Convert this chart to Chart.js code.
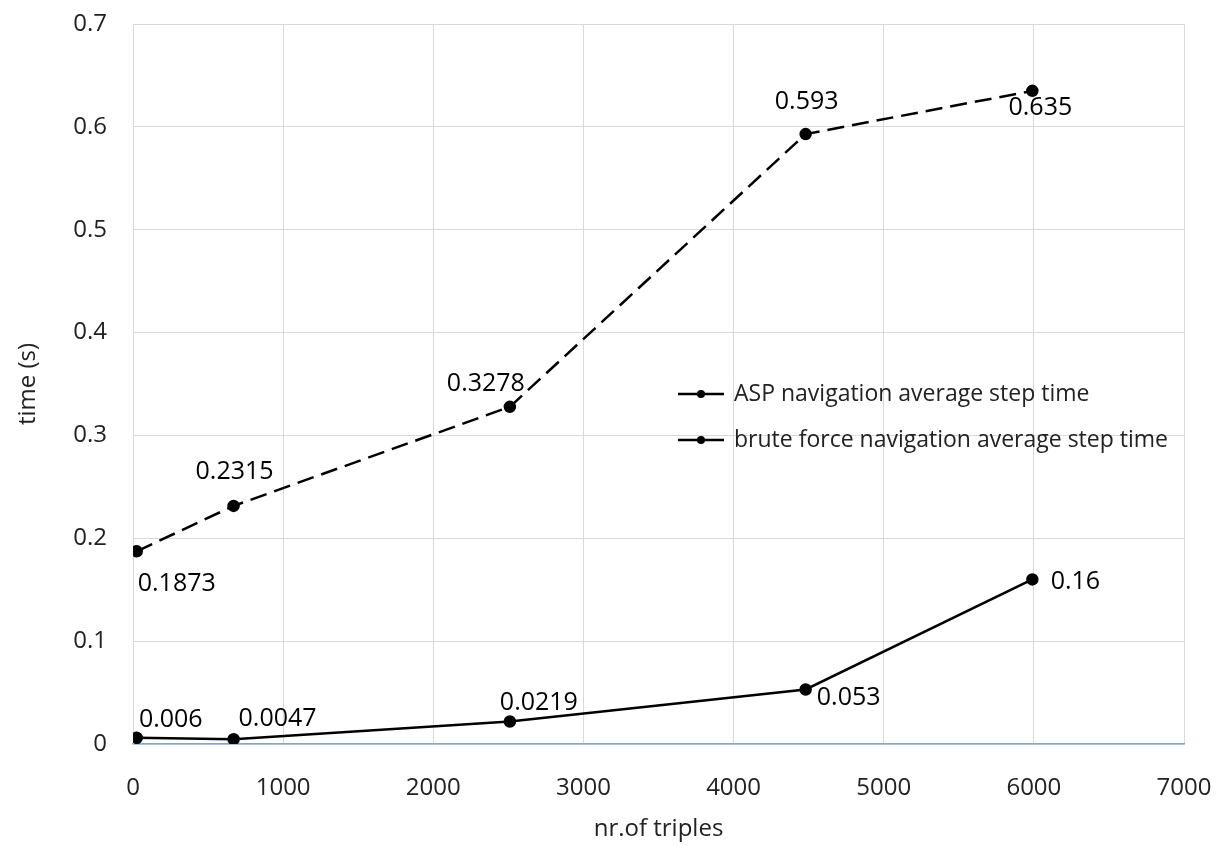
<!DOCTYPE html>
<html>
<head>
<meta charset="utf-8">
<script src="https://cdn.jsdelivr.net/npm/chart.js@4"></script>
<style>
  html, body { margin: 0; padding: 0; background: #fff; }
  #wrap { width: 1223px; height: 846px; }
</style>
</head>
<body>
<div id="wrap"><canvas id="myChart" width="1223" height="846"></canvas></div>
<script>
// data
var triples = [25, 670, 2510, 4480, 5990];
var aspTime = [0.1873, 0.2315, 0.3278, 0.593, 0.635];
var bruteTime = [0.006, 0.0047, 0.0219, 0.053, 0.16];
var aspLabels = ['0.1873', '0.2315', '0.3278', '0.593', '0.635'];
var bruteLabels = ['0.006', '0.0047', '0.0219', '0.053', '0.16'];

// where each value label sits relative to its point (px)
var aspOffsets = [[40, 33], [1, -34], [-24, -23], [1, -32], [8, 17]];
var bruteOffsets = [[34, -18], [44, -20], [29, -19], [43, 8], [43, 2]];

var FONT = '"Open Sans", "Noto Sans", sans-serif';

function toPoints(xs, ys) {
    var pts = [];
    for (var i = 0; i < xs.length; i++) {
        pts.push({ x: xs[i], y: ys[i] });
    }
    return pts;
}

const valueLabels = {
    id: 'valueLabels',
    afterDatasetsDraw(chart) {
        const ctx = chart.ctx;
        ctx.save();
        ctx.font = '25px ' + FONT;
        ctx.fillStyle = '#000';
        ctx.textAlign = 'center';
        ctx.textBaseline = 'middle';
        chart.data.datasets.forEach(function (ds, di) {
            const meta = chart.getDatasetMeta(di);
            meta.data.forEach(function (pt, i) {
                const off = ds.labelOffsets[i];
                ctx.fillText(ds.valueLabels[i], pt.x + off[0], pt.y + off[1]);
            });
        });
        ctx.restore();
    }
};

const innerLegend = {
    id: 'innerLegend',
    afterDraw(chart) {
        const ctx = chart.ctx;
        const x0 = 678, y0 = 394, rowH = 46, lineW = 46;
        ctx.save();
        chart.data.datasets.forEach(function (ds, i) {
            const y = y0 + i * rowH;
            ctx.strokeStyle = '#000';
            ctx.lineWidth = 2.5;
            ctx.beginPath();
            ctx.moveTo(x0, y);
            ctx.lineTo(x0 + lineW, y);
            ctx.stroke();
            ctx.fillStyle = '#000';
            ctx.beginPath();
            ctx.arc(x0 + lineW / 2, y, 4, 0, Math.PI * 2);
            ctx.fill();
            ctx.font = '23px ' + FONT;
            ctx.textAlign = 'left';
            ctx.textBaseline = 'middle';
            ctx.fillStyle = '#222';
            ctx.fillText(ds.label, x0 + lineW + 10, y);
        });
        ctx.restore();
    }
};

const data = {
    datasets: [{
        label: 'ASP navigation average step time',
        data: toPoints(triples, aspTime),
        borderColor: '#000',
        backgroundColor: '#000',
        borderWidth: 2.5,
        borderDash: [17, 8],
        pointRadius: 5,
        pointHoverRadius: 5,
        valueLabels: aspLabels,
        labelOffsets: aspOffsets
    }, {
        label: 'brute force navigation average step time',
        data: toPoints(triples, bruteTime),
        borderColor: '#000',
        backgroundColor: '#000',
        borderWidth: 2.5,
        pointRadius: 5,
        pointHoverRadius: 5,
        valueLabels: bruteLabels,
        labelOffsets: bruteOffsets
    }]
};

const config = {
    type: 'line',
    data: data,
    options: {
        responsive: false,
        animation: false,
        layout: { padding: { top: 24, right: 39, left: 14, bottom: 0 } },
        plugins: {
            legend: { display: false },
            tooltip: { enabled: false }
        },
        scales: {
            x: {
                type: 'linear',
                min: 0,
                max: 7000,
                afterFit: function (scale) {
                    scale.height = 102;
                    scale.paddingLeft = 0;
                    scale.paddingRight = 0;
                },
                ticks: {
                    stepSize: 1000, color: '#222', font: { family: FONT, size: 24 }, padding: 30,
                    callback: function (v) { return String(v); }
                },
                grid: { color: '#d9d9d9', lineWidth: 1, drawTicks: false },
                border: { color: '#74a9e0', width: 1.5 },
                title: { display: true, text: 'nr.of triples', color: '#222', font: { family: FONT, size: 24 }, padding: { top: 4, bottom: 2 } }
            },
            y: {
                min: 0,
                max: 0.7,
                afterFit: function (scale) {
                    scale.width = 119;
                    scale.paddingTop = 0;
                    scale.paddingBottom = 0;
                },
                ticks: { stepSize: 0.1, color: '#222', font: { family: FONT, size: 24 }, padding: 26 },
                grid: { color: '#d9d9d9', lineWidth: 1, drawTicks: false },
                border: { color: '#d9d9d9' },
                title: { display: true, text: 'time (s)', color: '#222', font: { family: FONT, size: 24 }, padding: { top: 0, bottom: 0 } }
            }
        }
    },
    plugins: [valueLabels, innerLegend]
};

const myChart = new Chart(document.getElementById('myChart'), config);
</script>
</body>
</html>
